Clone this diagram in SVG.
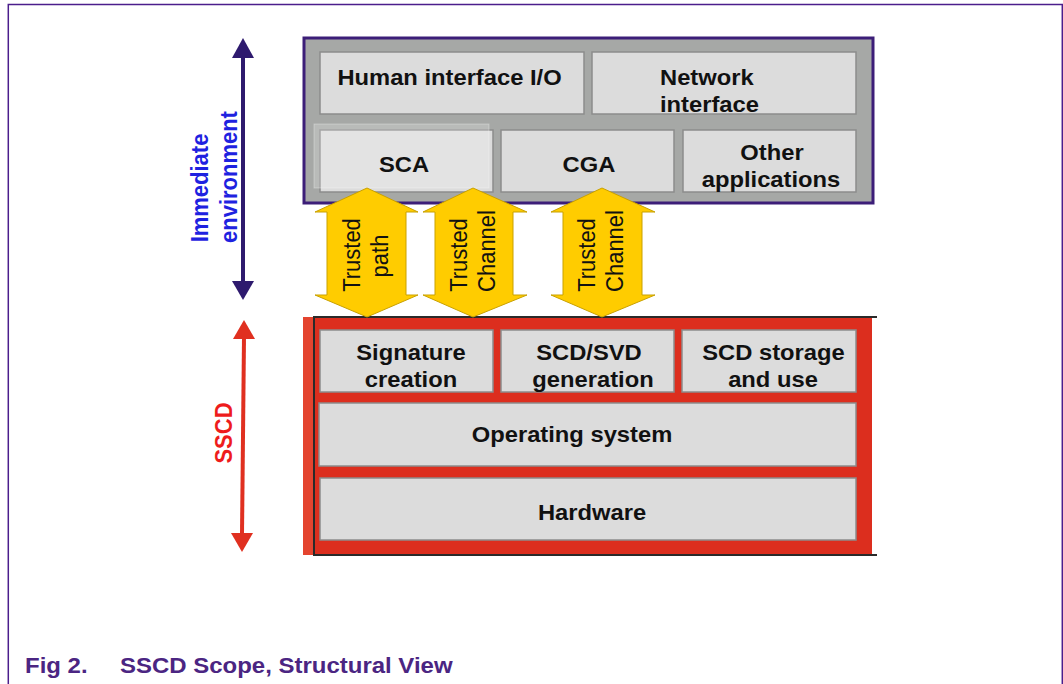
<svg xmlns="http://www.w3.org/2000/svg" width="1063" height="684" viewBox="0 0 1063 684">
<style>
.box{fill:#dcdcdc;stroke:#8c8c8c;stroke-width:1.5}
.lbl{font-family:"Liberation Sans",Arial,sans-serif;font-weight:bold;font-size:22px;fill:#111;text-anchor:middle}
.lbls{font-family:"Liberation Sans",Arial,sans-serif;font-weight:bold;font-size:22px;fill:#111;text-anchor:start}
.tr{font-family:"Liberation Sans",Arial,sans-serif;font-size:22px;fill:#111;text-anchor:middle}
.side{font-family:"Liberation Sans",Arial,sans-serif;font-weight:bold;font-size:22px;text-anchor:middle}
.cap{font-family:"Liberation Sans",Arial,sans-serif;font-weight:bold;font-size:22px;fill:#4b2582}
.yarrow{fill:#ffcc00;stroke:#c9a100;stroke-width:1}
</style>
<rect id="frame" x="8.3" y="4.5" width="1054" height="690" fill="none" stroke="#4b1e8c" stroke-width="1.5"/>

<g id="immediate-env">
  <rect x="304" y="38" width="569" height="165" fill="#a6a8a6" stroke="#3c1e78" stroke-width="3"/>
</g>
<g id="human-io">
  <rect class="box" x="320" y="52" width="264" height="62"/>
  <text class="lbl" transform="translate(449.5,85) scale(1.08,1)">Human interface I/O</text>
</g>
<g id="network">
  <rect class="box" x="592" y="52" width="264" height="62"/>
  <text class="lbls" transform="translate(660,85) scale(1.08,1)">Network</text>
  <text class="lbls" transform="translate(660,112) scale(1.08,1)">interface</text>
</g>
<g id="sca">
  <rect class="box" x="320" y="130" width="173" height="62"/>
  <rect x="314" y="124" width="175" height="64" fill="#ffffff" fill-opacity="0.22" stroke="#ffffff" stroke-opacity="0.3" stroke-width="1"/>
  <text class="lbl" transform="translate(404,172) scale(1.08,1)">SCA</text>
</g>
<g id="cga">
  <rect class="box" x="501" y="130" width="173" height="62"/>
  <text class="lbl" transform="translate(589,172) scale(1.08,1)">CGA</text>
</g>
<g id="other-apps">
  <rect class="box" x="683" y="130" width="173" height="62"/>
  <text class="lbl" transform="translate(772,160) scale(1.08,1)">Other</text>
  <text class="lbl" transform="translate(771,187) scale(1.08,1)">applications</text>
</g>

<g id="sscd">
  <rect x="303" y="317" width="569" height="238" fill="#dc2e1e"/>
  <rect x="303" y="317" width="10" height="238" fill="#e4442f"/>
  <path d="M877,317 H314 V555 H877" fill="none" stroke="#2a2a2a" stroke-width="2"/>
</g>
<g id="sig-creation">
  <rect class="box" x="320" y="330" width="173" height="62"/>
  <text class="lbl" transform="translate(411,360) scale(1.08,1)">Signature</text>
  <text class="lbl" transform="translate(411,387) scale(1.08,1)">creation</text>
</g>
<g id="scd-gen">
  <rect class="box" x="501" y="330" width="173" height="62"/>
  <text class="lbl" transform="translate(589,360) scale(1.08,1)">SCD/SVD</text>
  <text class="lbl" transform="translate(593,387) scale(1.08,1)">generation</text>
</g>
<g id="scd-storage">
  <rect class="box" x="682" y="330" width="174" height="62"/>
  <text class="lbl" transform="translate(773.5,360) scale(1.08,1)">SCD storage</text>
  <text class="lbl" transform="translate(773,387) scale(1.08,1)">and use</text>
</g>
<g id="os">
  <rect class="box" x="319" y="403" width="537" height="63"/>
  <text class="lbl" transform="translate(572,442) scale(1.08,1)">Operating system</text>
</g>
<g id="hardware">
  <rect class="box" x="320" y="478" width="536" height="62"/>
  <text class="lbl" transform="translate(592,520) scale(1.08,1)">Hardware</text>
</g>

<g id="connectors">
  <g id="trusted-path">
    <polygon class="yarrow" points="367,188 418,212 406,212 406,295 418,295 367,317 315,295 327,295 327,212 315,212"/>
    <text class="tr" transform="translate(360,255) scale(1.1,1) rotate(-90)">Trusted</text>
    <text class="tr" transform="translate(388,256) scale(1.1,1) rotate(-90)">path</text>
  </g>
  <g id="trusted-channel-1">
    <polygon class="yarrow" points="473,188 527,212 513,212 513,295 527,295 473,317 423,295 435,295 435,212 423,212"/>
    <text class="tr" transform="translate(467,255) scale(1.1,1) rotate(-90)">Trusted</text>
    <text class="tr" transform="translate(495,251) scale(1.1,1) rotate(-90)">Channel</text>
  </g>
  <g id="trusted-channel-2">
    <polygon class="yarrow" points="602,188 655,212 642,212 642,295 655,295 602,317 551,295 563,295 563,212 551,212"/>
    <text class="tr" transform="translate(595,255) scale(1.1,1) rotate(-90)">Trusted</text>
    <text class="tr" transform="translate(623,251) scale(1.1,1) rotate(-90)">Channel</text>
  </g>
  <g id="env-arrow">
    <line x1="243" y1="56" x2="243" y2="283" stroke="#2e1a6e" stroke-width="4"/>
    <polygon points="243,38 254,58 232,58" fill="#2e1a6e"/>
    <polygon points="243,300 254,281 232,281" fill="#2e1a6e"/>
    <text class="side" fill="#1e22e0" transform="translate(208,188) scale(1.08,1) rotate(-90)">Immediate</text>
    <text class="side" fill="#1e22e0" transform="translate(237,177) scale(1.08,1) rotate(-90)">environment</text>
  </g>
  <g id="sscd-arrow">
    <line x1="244" y1="337" x2="242" y2="535" stroke="#e03020" stroke-width="4"/>
    <polygon points="244,320 255,339 233,339" fill="#e03020"/>
    <polygon points="242,552 253,533 231,533" fill="#e03020"/>
    <text class="side" fill="#ee1c1c" transform="translate(232,433) scale(1.08,1) rotate(-90)">SSCD</text>
  </g>
</g>

<g id="caption">
  <text class="cap" transform="translate(25,673) scale(1.09,1)">Fig 2.</text>
  <text class="cap" transform="translate(120,673) scale(1.09,1)">SSCD Scope, Structural View</text>
</g>
</svg>
